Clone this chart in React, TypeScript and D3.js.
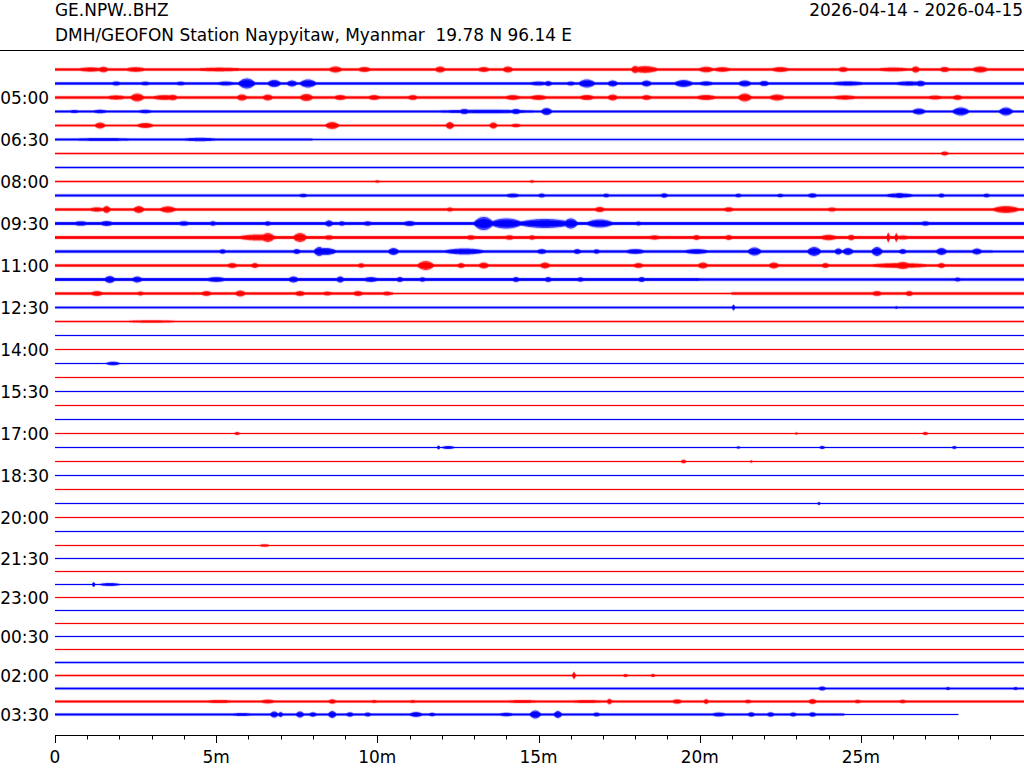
import React from "react";
import * as d3 from "d3";

// ---------- text ----------
const STATION = "GE.NPW..BHZ";
const DESCRIPTION = "DMH/GEOFON Station Naypyitaw, Myanmar  19.78 N 96.14 E";
const DATE_RANGE = "2026-04-14 - 2026-04-15";

// ---------- axes ----------
const TRACE_COUNT = 48;
const X_MAX = 30.06; // minutes shown per line
const LAST_TRACE_END = 28.02; // data ends here on the last line
const xMajorTicks = [0, 5, 10, 15, 20, 25];
const xMinorTicks = [1, 2, 3, 4, 6, 7, 8, 9, 11, 12, 13, 14, 16, 17, 18, 19, 21, 22, 23, 24, 26, 27, 28, 29];
const rowLabelIndex = [2, 5, 8, 11, 14, 17, 20, 23, 26, 29, 32, 35, 38, 41, 44, 47];
const rowLabels = ["05:00", "06:30", "08:00", "09:30", "11:00", "12:30", "14:00", "15:30", "17:00", "18:30", "20:00", "21:30", "23:00", "00:30", "02:00", "03:30"];
const traceColors = ["#ff0000", "#0000ff"];

// ---------- data: background noise level per line, segments [fromMin, toMin, halfAmplitude] ----------
const baseLevels: number[][][] = [
  [[0, 31, 1.2]], [[0, 31, 1.2]], [[0, 31, 1.3]], [[0, 31, 1.0]],
  [[0, 31, 0.9]], [[0, 8, 1.0], [8, 31, 0.85]], [[0, 31, 0.7]], [[0, 31, 0.8]],
  [[0, 31, 0.8]], [[0, 31, 1.1]], [[0, 31, 1.2]], [[0, 31, 1.5]],
  [[0, 31, 1.5]], [[0, 29.1, 1.3], [29.1, 31, 1.0]], [[0, 31, 1.2]], [[0, 20, 1.5], [20, 31, 1.3]],
  [[0, 10.5, 1.2], [10.5, 21, 0.8], [21, 31, 1.3]], [[0, 31, 0.9]], [[0, 31, 0.7]], [[0, 31, 0.6]],
  [[0, 31, 0.6]], [[0, 31, 0.6]], [[0, 31, 0.5]], [[0, 31, 0.5]],
  [[0, 31, 0.5]], [[0, 31, 0.5]], [[0, 31, 0.5]], [[0, 31, 0.5]],
  [[0, 31, 0.5]], [[0, 31, 0.55]], [[0, 31, 0.5]], [[0, 31, 0.5]],
  [[0, 31, 0.5]], [[0, 31, 0.5]], [[0, 31, 0.5]], [[0, 31, 0.5]],
  [[0, 31, 0.5]], [[0, 31, 0.5]], [[0, 31, 0.5]], [[0, 31, 0.5]],
  [[0, 31, 0.6]], [[0, 31, 0.6]], [[0, 31, 0.6]], [[0, 31, 0.7]],
  [[0, 31, 0.7]], [[0, 31, 0.9]], [[0, 31, 1.0]], [[0, 24.5, 1.0], [24.5, 31, 0.6]],
];

// ---------- data: bursts per line [centerMin, halfAmplitude, halfWidthMin] ----------
const bursts: number[][][] = [
  // 0  04:00
  [[1.1, 2.2, 0.5], [1.5, 2.8, 0.2], [2.5, 2.4, 0.4], [5.1, 1.9, 1.1], [8.7, 3.0, 0.25], [9.6, 2.6, 0.25], [11.95, 3.0, 0.2], [13.3, 2.5, 0.25], [14.05, 3.0, 0.2], [18.3, 3.4, 0.5], [18.0, 3.6, 0.15], [20.2, 2.8, 0.3], [20.7, 2.4, 0.35], [22.5, 2.5, 0.35], [24.45, 2.5, 0.2], [26.0, 2.0, 0.7], [26.7, 3.2, 0.15], [27.6, 2.6, 0.2], [28.7, 3.0, 0.3]],
  // 1
  [[1.9, 2.1, 0.2], [2.8, 1.9, 0.2], [3.9, 1.9, 0.2], [5.3, 2.0, 0.4], [5.95, 5.0, 0.3], [6.8, 3.6, 0.25], [7.35, 3.0, 0.2], [7.85, 4.0, 0.3], [15.0, 2.0, 0.4], [15.3, 2.5, 0.15], [16.0, 2.0, 0.2], [16.5, 4.0, 0.3], [17.3, 3.0, 0.2], [18.35, 3.0, 0.2], [19.5, 3.5, 0.35], [20.2, 2.2, 0.3], [21.4, 3.0, 0.25], [22.0, 2.6, 0.2], [24.6, 2.2, 0.7], [26.5, 2.2, 0.6], [26.85, 2.8, 0.2]],
  // 2  05:00
  [[1.9, 2.2, 0.4], [2.55, 4.0, 0.25], [3.4, 2.5, 0.5], [3.65, 2.8, 0.2], [5.8, 3.1, 0.2], [6.6, 3.0, 0.2], [7.8, 3.6, 0.25], [8.85, 2.6, 0.25], [9.9, 2.5, 0.25], [11.1, 2.5, 0.2], [14.2, 2.5, 0.3], [15.0, 2.5, 0.35], [16.5, 2.6, 0.3], [17.3, 3.0, 0.2], [18.35, 2.5, 0.2], [20.2, 2.6, 0.4], [21.4, 4.0, 0.25], [22.4, 3.0, 0.3], [24.5, 2.2, 0.5], [27.3, 2.1, 0.3], [28.0, 2.5, 0.2]],
  // 3
  [[0.6, 1.6, 0.2], [1.4, 1.8, 0.3], [2.8, 1.8, 0.3], [13.4, 1.8, 2.3], [12.7, 2.6, 0.2], [14.3, 2.6, 0.2], [15.25, 3.6, 0.2], [26.8, 3.0, 0.25], [28.1, 4.0, 0.3], [29.5, 4.0, 0.25]],
  // 4
  [[1.4, 3.0, 0.2], [2.8, 2.6, 0.3], [8.6, 3.5, 0.25], [12.25, 3.5, 0.15], [13.6, 3.0, 0.15], [14.3, 1.8, 0.2]],
  // 5  06:30
  [[1.5, 1.5, 1.5], [4.5, 1.7, 0.8]],
  // 6
  [[27.6, 2.0, 0.15]],
  // 7
  [],
  // 8  08:00
  [[10.0, 1.3, 0.1], [14.8, 1.3, 0.1]],
  // 9
  [[7.7, 1.8, 0.2], [14.2, 2.0, 0.3], [15.1, 2.1, 0.15], [17.1, 1.9, 0.15], [18.9, 2.2, 0.15], [21.2, 1.9, 0.15], [22.5, 1.8, 0.15], [23.5, 2.2, 0.2], [26.2, 2.2, 0.6], [26.2, 2.6, 0.2], [27.5, 2.0, 0.15], [28.9, 1.9, 0.15]],
  // 10
  [[1.3, 2.2, 0.3], [1.6, 3.5, 0.15], [2.6, 3.5, 0.2], [3.5, 3.2, 0.3], [12.25, 2.1, 0.15], [16.9, 2.6, 0.2], [20.9, 2.3, 0.2], [24.1, 2.1, 0.2], [29.5, 3.5, 0.5]],
  // 11  09:30
  [[0.8, 2.3, 0.3], [1.6, 2.6, 0.25], [4.0, 2.3, 0.25], [4.9, 2.3, 0.15], [6.6, 2.2, 0.15], [8.5, 3.2, 0.15], [8.9, 2.2, 0.15], [9.7, 2.2, 0.2], [11.0, 2.6, 0.25], [13.3, 6.5, 0.35], [14.0, 5.0, 0.6], [15.2, 4.5, 1.0], [16.0, 5.0, 0.25], [16.9, 4.0, 0.5], [18.1, 2.0, 0.15], [27.0, 2.2, 0.2]],
  // 12
  [[6.3, 3.0, 0.8], [6.6, 4.5, 0.25], [7.6, 4.5, 0.25], [8.5, 2.3, 0.2], [12.9, 2.3, 0.2], [14.1, 2.3, 0.2], [14.8, 2.2, 0.15], [18.6, 2.2, 0.25], [19.9, 2.5, 0.15], [20.9, 2.5, 0.15], [24.0, 2.7, 0.35], [24.7, 2.7, 0.15], [25.85, 5.0, 0.05], [26.1, 4.5, 0.05], [26.3, 2.0, 0.3]],
  // 13
  [[5.2, 2.2, 0.15], [7.5, 2.5, 0.15], [8.4, 3.5, 0.4], [8.2, 4.5, 0.2], [10.5, 3.5, 0.2], [12.7, 3.0, 0.8], [15.1, 2.5, 0.2], [16.2, 2.5, 0.15], [16.8, 2.2, 0.15], [18.0, 2.5, 0.4], [19.9, 2.5, 0.5], [21.7, 4.0, 0.25], [23.55, 4.5, 0.25], [24.3, 3.0, 0.15], [24.6, 3.5, 0.2], [25.5, 4.5, 0.2], [26.3, 2.5, 0.15], [27.5, 3.5, 0.2], [28.6, 3.0, 0.2]],
  // 14  11:00
  [[5.5, 2.5, 0.2], [6.2, 2.5, 0.15], [9.5, 2.2, 0.15], [11.5, 4.5, 0.3], [12.6, 2.5, 0.15], [13.3, 3.0, 0.2], [15.2, 3.0, 0.2], [18.1, 2.5, 0.2], [20.1, 3.0, 0.2], [22.3, 3.0, 0.2], [23.9, 2.5, 0.15], [26.2, 2.5, 1.2], [26.3, 3.5, 0.3], [27.5, 2.5, 0.15]],
  // 15
  [[1.7, 3.5, 0.2], [2.55, 3.0, 0.2], [5.0, 2.5, 0.4], [7.4, 3.0, 0.2], [8.85, 3.0, 0.15], [9.8, 2.5, 0.3], [10.7, 2.5, 0.15], [11.4, 2.2, 0.15], [14.3, 2.5, 0.15], [15.3, 2.5, 0.15], [16.3, 2.2, 0.15], [18.2, 2.5, 0.15], [28.0, 2.0, 0.15]],
  // 16
  [[1.3, 2.5, 0.25], [2.65, 2.0, 0.15], [4.7, 2.5, 0.2], [5.75, 3.0, 0.2], [7.6, 2.5, 0.2], [8.45, 2.0, 0.2], [9.4, 2.5, 0.2], [10.3, 2.0, 0.2], [25.5, 2.5, 0.2], [26.5, 2.5, 0.15]],
  // 17  12:30
  [[21.05, 3.0, 0.05], [26.1, 1.5, 0.05]],
  // 18
  [[3.0, 1.2, 1.3]],
  // 19
  [],
  // 20  14:00
  [],
  // 21
  [[1.8, 1.8, 0.25]],
  // 22
  [],
  // 23  15:30
  [],
  // 24
  [],
  // 25
  [],
  // 26  17:00
  [[5.65, 1.5, 0.1], [23.0, 1.2, 0.05], [27.0, 1.5, 0.1]],
  // 27
  [[11.9, 2.0, 0.05], [12.2, 1.5, 0.25], [21.2, 1.1, 0.1], [23.8, 1.6, 0.1], [27.9, 1.4, 0.1]],
  // 28
  [[19.5, 1.8, 0.1], [21.6, 1.2, 0.05]],
  // 29  18:30
  [],
  // 30
  [],
  // 31
  [[23.7, 1.6, 0.05]],
  // 32  20:00
  [],
  // 33
  [],
  // 34
  [[6.5, 1.3, 0.2]],
  // 35  21:30
  [],
  // 36
  [],
  // 37
  [[1.2, 2.5, 0.05], [1.7, 1.5, 0.4]],
  // 38  23:00
  [],
  // 39
  [],
  // 40
  [],
  // 41  00:30
  [],
  // 42
  [],
  // 43
  [],
  // 44  02:00
  [[16.1, 3.5, 0.06], [17.7, 1.5, 0.1], [18.55, 1.5, 0.1]],
  // 45
  [[23.8, 2.0, 0.15], [27.7, 1.5, 0.1], [29.8, 1.5, 0.1]],
  // 46
  [[5.1, 1.6, 0.6], [6.6, 1.9, 0.3], [8.6, 2.2, 0.15], [9.9, 1.5, 0.15], [11.1, 1.5, 0.15], [14.5, 1.5, 0.8], [16.5, 1.5, 0.8], [17.2, 2.8, 0.1], [19.3, 2.2, 0.2], [20.2, 2.5, 0.1], [21.5, 1.8, 0.15], [23.5, 2.5, 0.15], [24.9, 1.8, 0.15], [26.3, 1.8, 0.15]],
  // 47  03:30
  [[5.8, 1.5, 0.5], [6.8, 3.0, 0.15], [7.0, 2.5, 0.1], [7.6, 3.0, 0.15], [8.0, 2.2, 0.15], [8.6, 3.5, 0.15], [9.15, 2.2, 0.15], [9.7, 2.0, 0.15], [11.2, 2.5, 0.25], [11.7, 1.8, 0.15], [14.0, 1.8, 0.3], [14.9, 4.0, 0.2], [15.6, 3.5, 0.15], [16.8, 2.0, 0.15], [20.6, 2.0, 0.3], [21.6, 2.2, 0.15], [22.2, 2.2, 0.15], [22.9, 2.0, 0.15], [23.5, 2.2, 0.15]],
];

const FONT = "DejaVu Sans, Verdana, sans-serif";
const FS = 16.95;

function envelope(i: number, t: number): number {
  let a = 0;
  for (const [t0, t1, v] of baseLevels[i]) if (t >= t0 && t < t1) a = Math.max(a, v);
  for (const [c, v, w] of bursts[i]) {
    const u = (t - c) / w;
    if (Math.abs(u) < 1) a = Math.max(a, v * (1 - u * u));
  }
  return a;
}

export default function App() {
  React.useEffect(() => {
    document.body.style.margin = "0";
  }, []);

  const x = d3.scaleLinear().domain([0, X_MAX]).range([55, 1024]);
  const y = d3.scaleLinear().domain([0, 34, 47]).range([69.5, 545.5, 714.5]);
  const amp = d3.scaleLinear().domain([0, 10]).range([0, 10]);

  // layered envelope: faint fringe, dense body, solid core
  const layers = [
    { k: 1.1, add: 0.7, min: 0, opacity: 0.16 },
    { k: 1.0, add: 0, min: 0, opacity: 0.72 },
    { k: 0.65, add: 0, min: 0.5, opacity: 1 },
  ];

  const traces = d3.range(TRACE_COUNT).map((i) => {
    const end = i === TRACE_COUNT - 1 ? LAST_TRACE_END : X_MAX;
    const ts = d3.range(0, end, 0.025);
    ts.push(end);
    const yc = y(i);
    const env = ts.map((t) => envelope(i, t));
    const paths = layers.map((L) => {
      const h = (j: number) => amp(Math.max(L.min, env[j] * L.k + L.add));
      return d3
        .area<number>()
        .x((t) => x(t))
        .y0((_t, j) => yc - h(j))
        .y1((_t, j) => yc + h(j))(ts) as string;
    });
    return { i, paths, color: traceColors[i % 2] };
  });

  const axisY = 735;

  return (
    <svg
      width={1024}
      height={768}
      style={{ position: "absolute", left: 0, top: 0, background: "#fff" }}
      fontFamily={FONT}
    >
      <rect x={0} y={0} width={1024} height={768} fill="#fff" />
      <text x={55} y={16} fontSize={FS} fill="#000" style={{ whiteSpace: "pre" }}>{STATION}</text>
      <text x={55} y={41} fontSize={FS} fill="#000" style={{ whiteSpace: "pre" }} xmlSpace="preserve">{DESCRIPTION}</text>
      <text x={1023} y={16} fontSize={FS} fill="#000" textAnchor="end">{DATE_RANGE}</text>
      <line x1={0} x2={1024} y1={50.5} y2={50.5} stroke="#000" strokeWidth={1} />

      {traces.map((tr) => (
        <g key={tr.i} fill={tr.color}>
          {tr.paths.map((p, k) => (
            <path key={k} d={p} opacity={layers[k].opacity} />
          ))}
        </g>
      ))}

      {rowLabelIndex.map((idx, k) => (
        <text key={k} x={49} y={y(idx) + 6} fontSize={FS} textAnchor="end" fill="#000">
          {rowLabels[k]}
        </text>
      ))}

      <g>
        <line x1={x(0)} x2={1024} y1={axisY + 0.5} y2={axisY + 0.5} stroke="#000" strokeWidth={1} />
        {xMajorTicks.map((m) => (
          <g key={m}>
            <line x1={Math.round(x(m)) + 0.5} x2={Math.round(x(m)) + 0.5} y1={axisY} y2={axisY + 8} stroke="#000" />
            <text x={x(m)} y={axisY + 28} fontSize={FS} textAnchor="middle" fill="#000">
              {m === 0 ? "0" : `${m}m`}
            </text>
          </g>
        ))}
        {xMinorTicks.map((m) => (
          <line key={m} x1={Math.round(x(m)) + 0.5} x2={Math.round(x(m)) + 0.5} y1={axisY} y2={axisY + 4.5} stroke="#000" />
        ))}
      </g>
    </svg>
  );
}
